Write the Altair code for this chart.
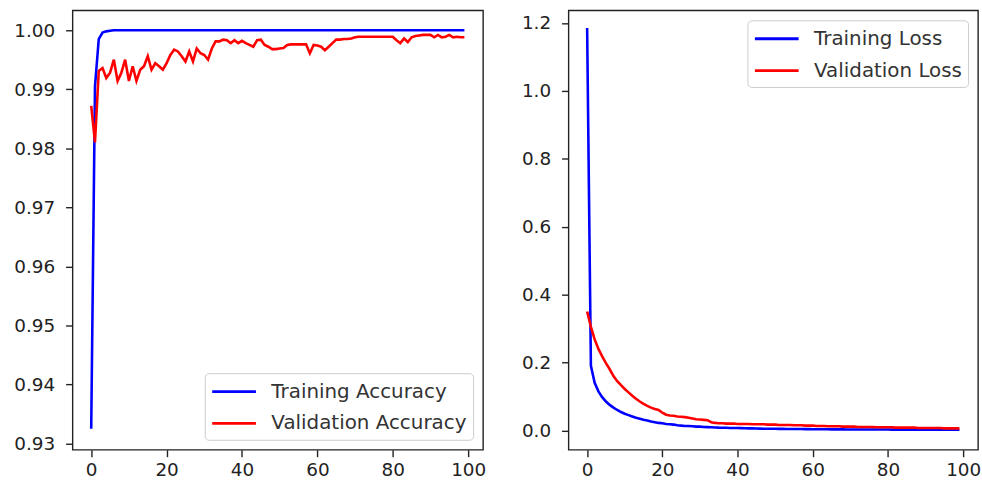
import altair as alt
import pandas as pd

FONT = "DejaVu Sans"

epochs = list(range(100))

train_acc = [
    0.9325, 0.9905, 0.9985, 0.9996, 0.9998, 0.9999, 1.0, 1.0, 1.0, 1.0,
    1.0, 1.0, 1.0, 1.0, 1.0, 1.0, 1.0, 1.0, 1.0, 1.0,
    1.0, 1.0, 1.0, 1.0, 1.0, 1.0, 1.0, 1.0, 1.0, 1.0,
    1.0, 1.0, 1.0, 1.0, 1.0, 1.0, 1.0, 1.0, 1.0, 1.0,
    1.0, 1.0, 1.0, 1.0, 1.0, 1.0, 1.0, 1.0, 1.0, 1.0,
    1.0, 1.0, 1.0, 1.0, 1.0, 1.0, 1.0, 1.0, 1.0, 1.0,
    1.0, 1.0, 1.0, 1.0, 1.0, 1.0, 1.0, 1.0, 1.0, 1.0,
    1.0, 1.0, 1.0, 1.0, 1.0, 1.0, 1.0, 1.0, 1.0, 1.0,
    1.0, 1.0, 1.0, 1.0, 1.0, 1.0, 1.0, 1.0, 1.0, 1.0,
    1.0, 1.0, 1.0, 1.0, 1.0, 1.0, 1.0, 1.0, 1.0, 1.0,
]

val_acc = [
    0.9872, 0.9810, 0.9931, 0.9936, 0.9919, 0.9928, 0.9950, 0.9914, 0.9928, 0.9950,
    0.9914, 0.9939, 0.9914, 0.9933, 0.9939, 0.9956, 0.9933, 0.9944, 0.9939, 0.9933,
    0.9944, 0.9958, 0.9967, 0.9964, 0.9956, 0.9947, 0.9964, 0.9947, 0.9969, 0.9961,
    0.9958, 0.9950, 0.9969, 0.9981, 0.9981, 0.9984, 0.9983, 0.9978, 0.9983, 0.9978,
    0.9982, 0.9978, 0.9975, 0.9972, 0.9983, 0.9984, 0.9975, 0.9972, 0.9968, 0.9968,
    0.9969, 0.9970, 0.9975, 0.9976, 0.9976, 0.9976, 0.9976, 0.9976, 0.9961, 0.9975,
    0.9974, 0.9972, 0.9966, 0.9972, 0.9978, 0.9984, 0.9984, 0.9985, 0.9985, 0.9986,
    0.9988, 0.9989, 0.9989, 0.9989, 0.9989, 0.9989, 0.9989, 0.9989, 0.9989, 0.9989,
    0.9989, 0.9983, 0.9978, 0.9986, 0.9980, 0.9988, 0.9990, 0.9991, 0.9992, 0.9992,
    0.9992, 0.9988, 0.9992, 0.9988, 0.9989, 0.9992, 0.9988, 0.9989, 0.9988, 0.9988,
]

train_loss = [
    1.185, 0.190, 0.140, 0.115, 0.098, 0.085, 0.075, 0.067, 0.060, 0.054,
    0.049, 0.045, 0.041, 0.037, 0.034, 0.031, 0.029, 0.026, 0.024, 0.022,
    0.021, 0.019, 0.018, 0.017, 0.015, 0.014, 0.013, 0.013, 0.012, 0.011,
    0.011, 0.010, 0.0095, 0.009, 0.0085, 0.008, 0.0078, 0.0075, 0.0072, 0.007,
    0.0068, 0.0065, 0.0062, 0.006, 0.0058, 0.0055, 0.0052, 0.005, 0.0049, 0.0048,
    0.0046, 0.0045, 0.0044, 0.0042, 0.0041, 0.004, 0.0039, 0.0038, 0.0037, 0.0036,
    0.0035, 0.0034, 0.0033, 0.0032, 0.0031, 0.003, 0.003, 0.0029, 0.0029, 0.0028,
    0.0028, 0.0027, 0.0027, 0.0026, 0.0026, 0.0025, 0.0025, 0.0025, 0.0024, 0.0024,
    0.0024, 0.0023, 0.0023, 0.0023, 0.0022, 0.0022, 0.0022, 0.0022, 0.0021, 0.0021,
    0.0021, 0.0021, 0.002, 0.002, 0.002, 0.002, 0.002, 0.002, 0.002, 0.002,
]

val_loss = [
    0.350, 0.305, 0.268, 0.240, 0.218, 0.198, 0.180, 0.160, 0.145, 0.133,
    0.122, 0.112, 0.102, 0.093, 0.085, 0.078, 0.072, 0.067, 0.063, 0.060,
    0.052, 0.046, 0.044, 0.043, 0.041, 0.040, 0.039, 0.037, 0.035, 0.033,
    0.032, 0.031, 0.030, 0.024, 0.022, 0.021, 0.021, 0.020, 0.020, 0.020,
    0.019, 0.019, 0.019, 0.019, 0.018, 0.018, 0.018, 0.018, 0.017, 0.017,
    0.017, 0.016, 0.016, 0.016, 0.016, 0.015, 0.015, 0.015, 0.014, 0.014,
    0.014, 0.013, 0.013, 0.013, 0.012, 0.012, 0.012, 0.012, 0.011, 0.011,
    0.011, 0.011, 0.010, 0.010, 0.010, 0.010, 0.010, 0.009, 0.009, 0.009,
    0.009, 0.009, 0.008, 0.008, 0.008, 0.008, 0.008, 0.008, 0.007, 0.007,
    0.007, 0.007, 0.007, 0.007, 0.007, 0.006, 0.006, 0.006, 0.006, 0.006,
]

acc_labels = ["Training Accuracy", "Validation Accuracy"]
loss_labels = ["Training Loss", "Validation Loss"]
line_colors = ["#0000ff", "#ff0000"]
x_ticks = [0, 20, 40, 60, 80, 100]
acc_ticks = [0.93, 0.94, 0.95, 0.96, 0.97, 0.98, 0.99, 1.00]
loss_ticks = [0.0, 0.2, 0.4, 0.6, 0.8, 1.0, 1.2]

acc_df = pd.DataFrame({
    "epoch": epochs + epochs,
    "value": train_acc + val_acc,
    "series": [acc_labels[0]] * len(epochs) + [acc_labels[1]] * len(epochs),
})
loss_df = pd.DataFrame({
    "epoch": epochs + epochs,
    "value": train_loss + val_loss,
    "series": [loss_labels[0]] * len(epochs) + [loss_labels[1]] * len(epochs),
})


def panel(df, labels, yticks, ydom, fmt, extent, orient, width):
    return alt.Chart(df).mark_line(strokeWidth=2.6, clip=True).encode(
        x=alt.X("epoch:Q",
                scale=alt.Scale(domain=[-4.95, 103.95], nice=False, zero=False),
                axis=alt.Axis(values=x_ticks, title=None, format="d", labelPadding=4)),
        y=alt.Y("value:Q",
                scale=alt.Scale(domain=ydom, nice=False, zero=False),
                axis=alt.Axis(values=yticks, title=None, format=fmt,
                              minExtent=extent, maxExtent=extent, labelPadding=11)),
        color=alt.Color("series:N",
                        scale=alt.Scale(domain=labels, range=line_colors),
                        legend=alt.Legend(title=None, orient=orient, offset=10)),
    ).properties(width=width, height=442)


left = panel(acc_df, acc_labels, acc_ticks, [0.92895, 1.00335], ".2f", 64, "bottom-right", 413)
right = panel(loss_df, loss_labels, loss_ticks, [-0.057, 1.237], ".1f", 50, "top-right", 412)

chart = alt.hconcat(left, right, spacing=31).resolve_scale(
    color="independent"
).resolve_legend(
    color="independent"
).properties(
    padding={"left": 8, "top": 8, "right": 0, "bottom": 0},
    background="white",
).configure_view(
    stroke="#222222", strokeWidth=1.4,
).configure_axis(
    grid=False, domain=False, tickColor="#222222", tickWidth=1.4, tickSize=7,
    labelFont=FONT, labelFontSize=18.5, labelColor="#222222",
).configure_legend(
    fillColor="white", strokeColor="#cccccc", cornerRadius=4, padding=6,
    symbolType="M-2,0H2", symbolSize=484, symbolStrokeWidth=2.8,
    symbolOffset=11, rowPadding=9,
    labelFont=FONT, labelFontSize=20, labelColor="#333333", labelOffset=25,
    labelLimit=400,
)

chart.save("out.html", embed_options={"renderer": "svg", "actions": False})
